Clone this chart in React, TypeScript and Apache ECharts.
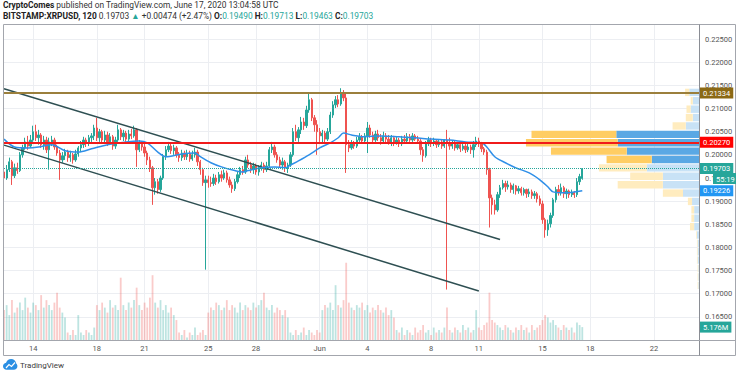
import React, { useEffect, useRef } from 'react';
import * as echarts from 'echarts';

// ---------- data ----------
const START_UTC = Date.UTC(2020, 4, 12, 4); // first 4h bar
const SLOT_HOURS = 4;
const SLOT_COUNT = 263;

const tickDates = ['05-14', '05-18', '05-21', '05-25', '05-28', '06-01', '06-04', '06-08', '06-11', '06-15', '06-18', '06-22'];
const tickLabels = ['14', '18', '21', '25', '28', 'Jun', '4', '8', '11', '15', '18', '22'];

// [open, close, low, high]
const candles: number[][] = [
  [0.1963,0.1950,0.1940,0.1972],[0.1950,0.1968,0.1946,0.1978],[0.1968,0.1985,0.1963,0.1994],[0.1985,0.1955,0.1935,0.1989],
  [0.1955,0.1972,0.1950,0.1981],[0.1972,0.1966,0.1959,0.1983],[0.1966,0.2000,0.1963,0.2006],[0.2000,0.2015,0.1994,0.2022],
  [0.2015,0.2028,0.2011,0.2037],[0.2028,0.2019,0.2011,0.2041],[0.2019,0.2032,0.2015,0.2043],[0.2032,0.2050,0.2028,0.2063],
  [0.2050,0.2037,0.2030,0.2065],[0.2037,0.2043,0.2022,0.2054],[0.2043,0.2022,0.2015,0.2047],[0.2022,0.2032,0.2011,0.2041],
  [0.2032,0.2011,0.2004,0.2039],[0.2011,0.2028,0.1968,0.2037],[0.2028,0.2032,0.2019,0.2041],[0.2032,0.2017,0.2011,0.2037],
  [0.2017,0.2004,0.1998,0.2022],[0.2004,0.1989,0.1946,0.2011],[0.1989,0.1998,0.1983,0.2006],[0.1998,0.2006,0.1989,0.2013],
  [0.2006,0.1994,0.1985,0.2011],[0.1994,0.2000,0.1985,0.2009],[0.2000,0.1989,0.1981,0.2004],[0.1989,0.2002,0.1985,0.2011],
  [0.2002,0.2015,0.1996,0.2019],[0.2015,0.2022,0.2006,0.2030],[0.2022,0.2032,0.2015,0.2039],[0.2032,0.2026,0.2017,0.2037],
  [0.2026,0.2037,0.2019,0.2043],[0.2037,0.2041,0.2028,0.2047],[0.2041,0.2058,0.2032,0.2065],[0.2058,0.2037,0.2030,0.2080],
  [0.2037,0.2050,0.2028,0.2056],[0.2050,0.2032,0.2026,0.2054],[0.2032,0.2043,0.2024,0.2052],[0.2043,0.2028,0.2019,0.2050],
  [0.2028,0.2039,0.2022,0.2047],[0.2039,0.2019,0.2011,0.2043],[0.2019,0.2032,0.2013,0.2039],[0.2032,0.2054,0.2028,0.2065],
  [0.2054,0.2039,0.2032,0.2058],[0.2039,0.2047,0.2030,0.2054],[0.2047,0.2034,0.2028,0.2052],[0.2034,0.2045,0.2030,0.2054],
  [0.2045,0.2041,0.2034,0.2056],[0.2041,0.2054,0.2037,0.2063],[0.2054,0.2011,0.1974,0.2058],[0.2011,0.2026,0.2006,0.2032],
  [0.2026,0.2017,0.2009,0.2030],[0.2017,0.2004,0.1996,0.2024],[0.2004,0.1989,0.1978,0.2009],[0.1989,0.1972,0.1963,0.1996],
  [0.1972,0.1929,0.1892,0.1976],[0.1929,0.1942,0.1914,0.1950],[0.1942,0.1925,0.1916,0.1948],[0.1925,0.1950,0.1920,0.1955],
  [0.1950,0.1996,0.1946,0.2002],[0.1996,0.2011,0.1989,0.2019],[0.2011,0.2019,0.2006,0.2028],[0.2019,0.2009,0.2002,0.2024],
  [0.2009,0.2015,0.2000,0.2022],[0.2015,0.2000,0.1994,0.2019],[0.2000,0.1994,0.1985,0.2006],[0.1994,0.2004,0.1987,0.2011],
  [0.2004,0.1996,0.1989,0.2009],[0.1996,0.2002,0.1989,0.2011],[0.2002,0.1991,0.1985,0.2009],[0.1991,0.2000,0.1987,0.2009],
  [0.2000,0.2006,0.1994,0.2015],[0.2006,0.1985,0.1976,0.2011],[0.1985,0.1968,0.1957,0.1989],[0.1968,0.1940,0.1933,0.1972],
  [0.1940,0.1946,0.1752,0.1955],[0.1946,0.1940,0.1929,0.1955],[0.1940,0.1938,0.1931,0.1953],[0.1938,0.1950,0.1933,0.1959],
  [0.1950,0.1942,0.1935,0.1957],[0.1942,0.1957,0.1938,0.1963],[0.1957,0.1950,0.1942,0.1966],[0.1950,0.1961,0.1946,0.1968],
  [0.1961,0.1946,0.1940,0.1966],[0.1946,0.1935,0.1929,0.1953],[0.1935,0.1927,0.1918,0.1942],[0.1927,0.1942,0.1922,0.1948],
  [0.1942,0.1957,0.1938,0.1963],[0.1957,0.1968,0.1950,0.1974],[0.1968,0.1963,0.1957,0.1976],[0.1963,0.1989,0.1959,0.1996],
  [0.1989,0.1978,0.1972,0.2000],[0.1978,0.1968,0.1961,0.1985],[0.1968,0.1976,0.1959,0.1983],[0.1976,0.1963,0.1957,0.1981],
  [0.1963,0.1972,0.1955,0.1978],[0.1972,0.1978,0.1966,0.1985],[0.1978,0.1968,0.1961,0.1983],[0.1968,0.1976,0.1963,0.1985],
  [0.1976,0.2011,0.1972,0.2017],[0.2011,0.2017,0.2004,0.2028],[0.2017,0.2000,0.1994,0.2022],[0.2000,0.1989,0.1983,0.2006],
  [0.1989,0.1978,0.1972,0.1996],[0.1978,0.1985,0.1968,0.1994],[0.1985,0.1972,0.1963,0.1989],[0.1972,0.1978,0.1961,0.1983],
  [0.1978,0.2000,0.1974,0.2006],[0.2000,0.2050,0.1996,0.2058],[0.2050,0.2037,0.2030,0.2065],[0.2037,0.2054,0.2028,0.2060],
  [0.2054,0.2071,0.2045,0.2082],[0.2071,0.2063,0.2054,0.2080],[0.2063,0.2097,0.2058,0.2106],[0.2097,0.2119,0.2091,0.2134],
  [0.2119,0.2080,0.2073,0.2123],[0.2080,0.2065,0.2050,0.2086],[0.2065,0.2050,0.2000,0.2075],[0.2050,0.2041,0.2028,0.2058],
  [0.2041,0.2047,0.2026,0.2054],[0.2047,0.2034,0.2026,0.2052],[0.2034,0.2050,0.2030,0.2058],[0.2050,0.2086,0.2045,0.2093],
  [0.2086,0.2108,0.2080,0.2116],[0.2108,0.2119,0.2101,0.2127],[0.2119,0.2110,0.2103,0.2129],[0.2110,0.2134,0.2106,0.2144],
  [0.2134,0.2123,0.2116,0.2140],[0.2123,0.2022,0.1961,0.2134],[0.2022,0.2015,0.2006,0.2032],[0.2015,0.2026,0.2011,0.2032],
  [0.2026,0.2019,0.2013,0.2030],[0.2019,0.2032,0.2015,0.2039],[0.2032,0.2039,0.2026,0.2047],[0.2039,0.2030,0.2024,0.2043],
  [0.2030,0.2041,0.2026,0.2047],[0.2041,0.2058,0.2004,0.2071],[0.2058,0.2043,0.2037,0.2065],[0.2043,0.2032,0.2026,0.2050],
  [0.2032,0.2045,0.2028,0.2052],[0.2045,0.2037,0.2030,0.2054],[0.2037,0.2030,0.2022,0.2045],[0.2030,0.2041,0.2026,0.2050],
  [0.2041,0.2034,0.2024,0.2047],[0.2034,0.2028,0.2022,0.2043],[0.2028,0.2037,0.2019,0.2043],[0.2037,0.2026,0.2019,0.2041],
  [0.2026,0.2032,0.2022,0.2039],[0.2032,0.2024,0.2017,0.2037],[0.2024,0.2034,0.2019,0.2041],[0.2034,0.2030,0.2024,0.2043],
  [0.2030,0.2039,0.2026,0.2047],[0.2039,0.2032,0.2028,0.2045],[0.2032,0.2041,0.2028,0.2047],[0.2041,0.2034,0.2030,0.2045],
  [0.2034,0.2030,0.2024,0.2041],[0.2030,0.2011,0.2000,0.2034],[0.2011,0.1998,0.1985,0.2017],[0.1998,0.2024,0.1994,0.2030],
  [0.2024,0.2032,0.2019,0.2039],[0.2032,0.2026,0.2017,0.2037],[0.2026,0.2030,0.2019,0.2037],[0.2030,0.2022,0.2015,0.2034],
  [0.2022,0.2028,0.2017,0.2034],[0.2028,0.2019,0.2013,0.2032],[0.2019,0.2032,0.2015,0.2034],[0.2032,0.2026,0.1709,0.2054],
  [0.2026,0.2019,0.2011,0.2037],[0.2019,0.2026,0.2013,0.2032],[0.2026,0.2015,0.2009,0.2030],[0.2015,0.2022,0.2011,0.2028],
  [0.2022,0.2013,0.2006,0.2028],[0.2013,0.2019,0.2009,0.2026],[0.2019,0.2011,0.2004,0.2026],[0.2011,0.2017,0.2006,0.2024],
  [0.2017,0.2011,0.2002,0.2022],[0.2011,0.2022,0.1994,0.2030],[0.2022,0.2030,0.2017,0.2039],[0.2030,0.2024,0.2017,0.2037],
  [0.2024,0.2013,0.2006,0.2028],[0.2013,0.2006,0.2000,0.2017],[0.2006,0.1968,0.1957,0.2011],[0.1968,0.1907,0.1843,0.1972],
  [0.1907,0.1892,0.1871,0.1914],[0.1892,0.1881,0.1871,0.1903],[0.1881,0.1914,0.1877,0.1920],[0.1914,0.1929,0.1907,0.1935],
  [0.1929,0.1938,0.1925,0.1946],[0.1938,0.1931,0.1920,0.1944],[0.1931,0.1935,0.1925,0.1944],[0.1935,0.1925,0.1918,0.1940],
  [0.1925,0.1933,0.1916,0.1938],[0.1933,0.1922,0.1914,0.1935],[0.1922,0.1927,0.1916,0.1933],[0.1927,0.1918,0.1912,0.1931],
  [0.1918,0.1925,0.1912,0.1929],[0.1925,0.1916,0.1907,0.1927],[0.1916,0.1920,0.1909,0.1927],[0.1920,0.1912,0.1905,0.1925],
  [0.1912,0.1916,0.1905,0.1922],[0.1916,0.1905,0.1897,0.1920],[0.1905,0.1894,0.1890,0.1912],[0.1894,0.1860,0.1851,0.1901],
  [0.1860,0.1838,0.1821,0.1864],[0.1838,0.1851,0.1825,0.1860],[0.1851,0.1869,0.1843,0.1875],[0.1869,0.1903,0.1864,0.1907],
  [0.1903,0.1925,0.1897,0.1931],[0.1925,0.1918,0.1912,0.1935],[0.1918,0.1929,0.1912,0.1938],[0.1929,0.1916,0.1907,0.1933],
  [0.1916,0.1922,0.1905,0.1927],[0.1922,0.1914,0.1907,0.1925],[0.1914,0.1918,0.1909,0.1925],[0.1918,0.1914,0.1907,0.1922],
  [0.1914,0.1942,0.1909,0.1950],[0.1942,0.1953,0.1935,0.1959],[0.1949,0.19703,0.19463,0.19713],
];

// volume per bar, millions of XRP
const volumes: number[] = [
  12,14,10,16,11,13,15,12,17,13,11,15,14,12,18,13,16,14,12,15,19,13,11,9,
  3,2,4,2,10,3,2,4,3,2,5,
  14,12,15,13,11,16,13,14,12,25,14,12,15,13,16,21,14,12,15,13,17,26,15,13,16,12,14,11,13,10,8,
  3,2,4,1,3,2,5,2,3,4,2,
  11,13,12,15,14,12,13,16,12,14,13,11,15,12,14,13,12,15,13,14,16,19,13,12,14,11,13,12,10,12,9,
  3,2,4,2,3,5,2,4,3,2,4,3,
  12,14,13,15,12,22,14,13,16,31,15,13,12,14,13,15,12,14,11,13,12,14,12,11,13,10,12,9,
  4,3,5,2,4,3,2,5,3,4,6,3,4,2,5,3,4,3,5,
  13,
  4,3,5,4,3,6,4,5,3,4,
  12,
  5,4,6,7,
  19,
  8,7,6,5,4,6,5,4,3,5,4,6,4,5,3,6,4,5,6,
  8,10,9,7,8,6,
  5,4,6,5,4,5,3,7,6,
  5.176,
];

// moving average: [bar index, value]
const maPoints: number[][] = [
  [0,0.2034],[4,0.2017],[9,0.2015],[13,0.2017],[18,0.2022],[23,0.2009],[28,0.2006],[33,0.2013],
  [39,0.2022],[46,0.2028],[51,0.2030],[54,0.2026],[58,0.2006],[61,0.1996],[67,0.2002],[72,0.2004],
  [74,0.1996],[78,0.1983],[82,0.1974],[87,0.1966],[90,0.1963],[92,0.1966],[97,0.1972],[102,0.1974],
  [106,0.1972],[108,0.1978],[111,0.1987],[115,0.2000],[119,0.2015],[123,0.2026],[126,0.2037],[128,0.2047],
  [131,0.2043],[136,0.2039],[142,0.2041],[149,0.2039],[155,0.2037],[161,0.2034],[168,0.2032],[174,0.2028],
  [180,0.2026],[182,0.2017],[185,0.1996],[189,0.1983],[193,0.1972],[198,0.1961],[202,0.1946],[205,0.1931],
  [207,0.1920],[212,0.1918],[215,0.1920],[218,0.19226],
];

const upperChannel: number[][] = [[0, 0.2143], [187, 0.1817]];
const lowerChannel: number[][] = [[0, 0.2021], [179, 0.1706]];
const resistanceLevel = 0.21334;
const supportLevel = 0.2027;

// visible-range volume profile (rows top → bottom)
const profileEdges: number[] = [0.2144,0.21259,0.21078,0.20896,0.20715,0.20534,0.20353,0.20171,0.1999,0.19809,0.19628,0.19446,0.19265,0.19084,0.18903,0.18721,0.1854,0.18359,0.18178,0.17996,0.17815,0.17634,0.17453,0.17271,0.1709];
const profileUp: number[] = [1.4,0.9,1.2,0.9,1.9,11.9,11.7,10.4,6.8,7.5,5.2,5.2,2.3,1.0,0.7,0.7,0.7,0.3,0.2,0.2,0.2,0.1,0.1,0.1];
const profileDown: number[] = [0.6,0.3,0.6,1.0,1.9,12.2,13.2,10.9,6.5,6.9,4.7,6.5,2.9,0.6,0.4,0.4,0.6,0.1,0.1,0.1,0.1,0.1,0.1,0.1];
const valueAreaRows = [5, 8];

const countdown = '55:19';

// ---------- styling ----------
const UP = '#26a69a';
const DOWN = '#ef5350';
const FONT = 'Roboto';
const AX_FONT = 7.5;
const HEAD_FONT = 8.4;

const LOGO_PATH = 'M6 18 C2.7 18 0 15.3 0 12 C0 9 2.2 6.5 5.1 6.1 C6.3 2.5 9.6 0 13.5 0 C17.9 0 21.5 3.3 22 7.6 C23.2 8.6 24 10.2 24 12 C24 15.3 21.3 18 18 18 Z';
echarts.graphic.registerShape('tvlogo', echarts.graphic.extendPath(LOGO_PATH, {}));

function buildOption() {
  const categories = Array.from({ length: SLOT_COUNT }, (_, i) => {
    const d = new Date(START_UTC + i * SLOT_HOURS * 3600e3);
    const mm = String(d.getUTCMonth() + 1).padStart(2, '0');
    const dd = String(d.getUTCDate()).padStart(2, '0');
    const hh = String(d.getUTCHours()).padStart(2, '0');
    return `${mm}-${dd} ${hh}`;
  });
  const isTick = (_: number, v: string) => v.endsWith(' 00') && tickDates.includes(v.slice(0, 5));

  const volData = volumes.map((v, i) => ({
    value: v,
    itemStyle: { color: candles[i] && candles[i][1] >= candles[i][0] ? 'rgba(38,166,154,0.30)' : 'rgba(239,83,80,0.30)' },
  }));

  const profileData = profileUp.map((u, r) => [profileEdges[r + 1], profileEdges[r], u, profileDown[r], r >= valueAreaRows[0] && r <= valueAreaRows[1] ? 1 : 0]);

  const lastClose = candles[candles.length - 1][1];
  const lastMA = maPoints[maPoints.length - 1][1];
  const lastVol = volumes[volumes.length - 1];

  const boxLabel = (bg: string, text: string) => ({
    show: true, position: 'end', distance: 1, formatter: text,
    backgroundColor: bg, color: '#fff', padding: [2, 3, 1, 3], fontSize: AX_FONT, fontFamily: FONT,
  });
  const hidden = { color: 'rgba(0,0,0,0)', width: 1 };

  return {
    animation: false,
    textStyle: { fontFamily: FONT },
    grid: [
      { left: 4, right: 37, top: 16, bottom: 35, containLabel: false, outerBoundsMode: 'none' },
      { left: 4, right: 37, top: 16, bottom: 35, containLabel: false, outerBoundsMode: 'none' },
    ],
    xAxis: [
      {
        type: 'category', gridIndex: 0, data: categories, boundaryGap: false,
        axisLine: { show: false }, axisTick: { show: false },
        axisLabel: {
          interval: isTick, margin: 4, fontSize: AX_FONT, color: '#555', fontFamily: FONT,
          formatter: (v: string) => tickLabels[tickDates.indexOf(v.slice(0, 5))] ?? '',
        },
        splitLine: { show: true, interval: isTick, lineStyle: { color: '#eceef2', width: 1 } },
      },
      { type: 'value', gridIndex: 0, position: 'top', min: 0, max: 100, inverse: true, show: false, splitLine: { show: false } },
      { type: 'category', gridIndex: 1, data: categories, boundaryGap: false, show: false },
    ],
    yAxis: [
      {
        type: 'value', gridIndex: 0, position: 'right', min: 0.16, max: 0.23, interval: 0.005,
        axisLine: { show: false }, axisTick: { show: false },
        axisLabel: { margin: 6, fontSize: AX_FONT, color: '#555', fontFamily: FONT, showMinLabel: false, showMaxLabel: false, formatter: (v: number) => v.toFixed(5) },
        splitLine: { show: true, lineStyle: { color: '#eceef2', width: 1 } },
      },
      { type: 'value', gridIndex: 1, min: 0, max: 130, show: false, splitLine: { show: false } },
    ],
    series: [
      {
        type: 'custom', name: 'profile', xAxisIndex: 1, yAxisIndex: 0, z: 1, silent: true,
        data: profileData,
        renderItem: (_p: any, api: any) => {
          const lo = api.value(0), hi = api.value(1), up = api.value(2), dn = api.value(3), dark = api.value(4);
          const pTop = api.coord([0, hi]);
          const pBot = api.coord([0, lo]);
          const pUp = api.coord([up, lo]);
          const pAll = api.coord([up + dn, lo]);
          const h = Math.max(0.5, pBot[1] - pTop[1] - 1);
          return {
            type: 'group',
            children: [
              { type: 'rect', shape: { x: pUp[0], y: pTop[1] + 0.5, width: pTop[0] - pUp[0], height: h }, style: { fill: dark ? '#5aa8e4' : '#c8e2f6' } },
              { type: 'rect', shape: { x: pAll[0], y: pTop[1] + 0.5, width: pUp[0] - pAll[0], height: h }, style: { fill: dark ? '#ffcd63' : '#ffecbf' } },
            ],
          };
        },
      },
      {
        type: 'bar', name: 'volume', xAxisIndex: 2, yAxisIndex: 1, data: volData, barWidth: 1.8, z: 1, silent: true,
        markLine: {
          silent: true, symbol: ['none', 'none'], precision: 6,
          data: [{ yAxis: lastVol, lineStyle: hidden, label: boxLabel(UP, lastVol.toFixed(3) + 'M') }],
        },
      },
      {
        type: 'candlestick', name: 'XRPUSD', xAxisIndex: 0, yAxisIndex: 0, data: candles, barWidth: 1.8, z: 2, silent: true,
        itemStyle: { color: UP, color0: DOWN, borderColor: UP, borderColor0: DOWN, borderWidth: 1 },
      },
      {
        type: 'line', name: 'upper', xAxisIndex: 0, yAxisIndex: 0, data: upperChannel, showSymbol: false, z: 3, silent: true,
        lineStyle: { color: '#2e4f52', width: 1.5 },
        markLine: {
          silent: true, symbol: ['none', 'none'], precision: 6,
          data: [
            { yAxis: resistanceLevel, lineStyle: { color: '#9b7f3c', width: 2, type: 'solid' }, label: boxLabel('#8b6914', resistanceLevel.toFixed(5)) },
            { yAxis: supportLevel, lineStyle: { color: '#f01b1b', width: 2, type: 'solid' }, label: boxLabel('#ff0000', supportLevel.toFixed(5)) },
            { yAxis: lastClose, lineStyle: { color: UP, width: 1, type: 'dotted' }, label: boxLabel(UP, lastClose.toFixed(5)) },
          ],
        },
      },
      {
        type: 'line', name: 'lower', xAxisIndex: 0, yAxisIndex: 0, data: lowerChannel, showSymbol: false, z: 3, silent: true,
        lineStyle: { color: '#2e4f52', width: 1.5 },
      },
      {
        type: 'line', name: 'MA', xAxisIndex: 0, yAxisIndex: 0, data: maPoints, showSymbol: false, smooth: 0.3, z: 4, silent: true,
        lineStyle: { color: '#2f8fe8', width: 1.5 },
        markLine: {
          silent: true, symbol: ['none', 'none'], precision: 6,
          data: [{ yAxis: lastMA, lineStyle: hidden, label: boxLabel('#2196f3', lastMA.toFixed(5)) }],
        },
      },
    ],
    graphic: [
      { type: 'rect', z: 100, silent: true, shape: { x: 0, y: 0, width: 736, height: 24 }, style: { fill: '#fff' } },
      { type: 'rect', z: 101, silent: true, shape: { x: 3.5, y: 24.5, width: 732, height: 331 }, style: { fill: 'none', stroke: '#a3a6ad', lineWidth: 1 } },
      { type: 'line', z: 101, silent: true, shape: { x1: 699.5, y1: 24.5, x2: 699.5, y2: 355.5 }, style: { stroke: '#8a8d94', lineWidth: 1 } },
      { type: 'line', z: 101, silent: true, shape: { x1: 3.5, y1: 340.5, x2: 735.5, y2: 340.5 }, style: { stroke: '#a3a6ad', lineWidth: 1 } },
      {
        type: 'text', z: 102, silent: true, x: 3, y: 1,
        style: {
          text: '{b|CryptoComes} published on TradingView.com, June 17, 2020 13:04:58 UTC',
          fill: '#333', fontSize: HEAD_FONT, fontFamily: FONT,
          rich: { b: { fontWeight: 'bold', fill: '#222', fontSize: HEAD_FONT, fontFamily: FONT } },
        },
      },
      {
        type: 'text', z: 102, silent: true, x: 3, y: 12,
        style: {
          text: '{b|BITSTAMP:XRPUSD, 120} 0.19703 {g|▲} +0.00474 (+2.47%) {b|O:}{g|0.19490} {b|H:}{g|0.19713} {b|L:}{g|0.19463} {b|C:}{g|0.19703}',
          fill: '#333', fontSize: HEAD_FONT, fontFamily: FONT,
          rich: {
            b: { fontWeight: 'bold', fill: '#222', fontSize: HEAD_FONT, fontFamily: FONT },
            g: { fill: UP, fontSize: HEAD_FONT, fontFamily: FONT },
          },
        },
      },
      {
        type: 'text', z: 102, silent: true, x: 713, y: 173,
        style: { text: countdown, fill: '#fff', backgroundColor: UP, padding: [2, 3, 1, 3], fontSize: AX_FONT, fontFamily: FONT },
      },
      { type: 'tvlogo', z: 102, silent: true, x: 3, y: 359, scaleX: 0.6, scaleY: 0.6, style: { fill: '#2b8fe3' } },
      { type: 'polyline', z: 103, silent: true, shape: { points: [[6, 368], [9, 364.5], [11.5, 366.5], [15, 362.5]] }, style: { stroke: '#fff', lineWidth: 1.2, fill: 'none' } },
      { type: 'text', z: 102, silent: true, x: 20, y: 361, style: { text: 'TradingView', fill: '#3c3c3c', fontSize: 8, fontFamily: FONT } },
    ],
  };
}

export default function App() {
  const ref = useRef<HTMLDivElement>(null);
  useEffect(() => {
    const chart = echarts.init(ref.current!, null, { renderer: 'svg' });
    chart.setOption(buildOption() as any);
    return () => chart.dispose();
  }, []);
  return <div ref={ref} style={{ position: 'fixed', left: 0, top: 0, width: 736, height: 375, background: '#fff' }} />;
}
